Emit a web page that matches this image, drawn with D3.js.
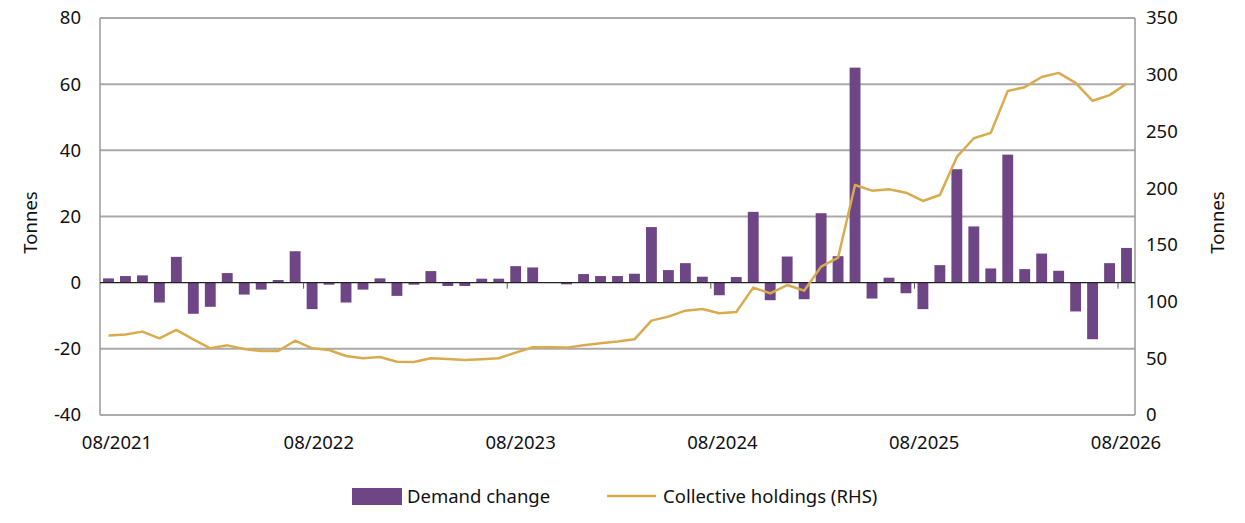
<!DOCTYPE html>
<html>
<head>
<meta charset="utf-8">
<script src="https://cdn.jsdelivr.net/npm/d3@7"></script>
<style>
  body { margin: 0; background: #fff; font-family: "Noto Sans", sans-serif; }
  text { font-family: "Noto Sans", sans-serif; fill: #111; }
</style>
</head>
<body>
<svg id="chart" width="1245" height="523"></svg>
<script>
// monthly demand change (tonnes), 08/2021 .. 08/2026
const demand = [1.3, 2, 2.2, -6, 7.8, -9.4, -7.3, 2.9, -3.6, -2.1, 0.8, 9.5,
  -8, -0.6, -6, -2.1, 1.3, -4, -0.6, 3.5, -1, -1, 1.2, 1.2,
  5, 4.6, 0, -0.5, 2.6, 2, 2, 2.7, 16.8, 3.8, 5.9, 1.8,
  -3.8, 1.7, 21.4, -5.3, 7.9, -5, 21, 8, 65, -4.8, 1.5, -3.2,
  -8, 5.3, 34.3, 17, 4.3, 38.7, 4.1, 8.8, 3.6, -8.7, -17.1, 5.9, 10.5];
// collective holdings (tonnes, RHS)
const holdings = [70, 71, 73.5, 67.6, 75, 66.7, 58.8, 61.4, 58.2, 56.4, 56.4, 65.5,
  58.8, 57.3, 52, 50, 51.1, 47, 46.7, 50, 49.4, 48.5, 49.1, 50,
  55, 59.7, 59.7, 59.4, 61.5, 63.2, 64.7, 66.7, 83.2, 86.7, 92, 93.5,
  89.7, 90.8, 112.3, 107.3, 114.6, 109.6, 130.8, 138.7, 202.8, 197.8, 199, 196,
  188.7, 194, 227.5, 244, 248.7, 285.7, 289, 298, 301.6, 292.8, 277, 282, 292];
const xLabels = ["08/2021", "08/2022", "08/2023", "08/2024", "08/2025", "08/2026"];
const leftTicks = [-40, -20, 0, 20, 40, 60, 80];
const rightTicks = [0, 50, 100, 150, 200, 250, 300, 350];

const M = { left: 100, right: 1135, top: 18, bottom: 415 };
const FS = 18.5;
const svg = d3.select("#chart");

const x = d3.scaleBand().domain(d3.range(demand.length)).range([M.left, M.right]).paddingInner(0.36).paddingOuter(0.18);
const y = d3.scaleLinear().domain([-40, 80]).range([M.bottom, M.top]);
const y2 = d3.scaleLinear().domain([0, 350]).range([M.bottom, M.top]);
const xl = d3.scalePoint().domain(xLabels).range([117, 1126]);

// gridlines
svg.append("g").selectAll("line").data(leftTicks.filter(d => d !== 0)).join("line")
  .attr("x1", M.left).attr("x2", M.right)
  .attr("y1", d => y(d)).attr("y2", d => y(d))
  .attr("stroke", "#aaa").attr("stroke-width", 2);

// frame sides
svg.append("line").attr("x1", M.left).attr("x2", M.left).attr("y1", M.top).attr("y2", M.bottom)
  .attr("stroke", "#999").attr("stroke-width", 1.5);
svg.append("line").attr("x1", M.right).attr("x2", M.right).attr("y1", M.top).attr("y2", M.bottom)
  .attr("stroke", "#999").attr("stroke-width", 1.5);

// bars
svg.append("g").selectAll("rect").data(demand).join("rect")
  .attr("x", (d, i) => x(i))
  .attr("width", x.bandwidth())
  .attr("y", d => y(Math.max(0, d)))
  .attr("height", d => Math.abs(y(d) - y(0)))
  .attr("fill", "#6e4686");

// zero line + ticks
svg.append("line").attr("x1", M.left).attr("x2", M.right).attr("y1", y(0)).attr("y2", y(0))
  .attr("stroke", "#222").attr("stroke-width", 1.2);
svg.append("g").selectAll("line").data([12, 24, 36, 48, 60]).join("line")
  .attr("x1", d => x(d) - x.step() * 0.18).attr("x2", d => x(d) - x.step() * 0.18)
  .attr("y1", y(0)).attr("y2", y(0) + 6)
  .attr("stroke", "#555").attr("stroke-width", 1);

// line
const line = d3.line().x((d, i) => x(i) + x.bandwidth() / 2).y(d => y2(d));
svg.append("path").datum(holdings).attr("d", line)
  .attr("fill", "none").attr("stroke", "#d9ab4f").attr("stroke-width", 2.5)
  .attr("stroke-linejoin", "round");

// axis labels
svg.append("g").selectAll("text").data(leftTicks).join("text")
  .attr("x", 81).attr("y", d => y(d)).attr("dy", "0.35em")
  .attr("text-anchor", "end").attr("font-size", FS).text(d => d);
svg.append("g").selectAll("text").data(rightTicks).join("text")
  .attr("x", 1146).attr("y", d => y2(d)).attr("dy", "0.35em")
  .attr("font-size", FS).text(d => d);
svg.append("g").selectAll("text").data(xLabels).join("text")
  .attr("x", d => xl(d)).attr("y", 449)
  .attr("text-anchor", "middle").attr("font-size", FS).text(d => d);

svg.append("text").attr("transform", `translate(37,${(M.top + M.bottom) / 2 + 6}) rotate(-90)`)
  .attr("text-anchor", "middle").attr("font-size", FS).text("Tonnes");
svg.append("text").attr("transform", `translate(1224,${(M.top + M.bottom) / 2 + 6}) rotate(-90)`)
  .attr("text-anchor", "middle").attr("font-size", FS).text("Tonnes");

// legend
const lg = svg.append("g");
lg.append("rect").attr("x", 352).attr("y", 488).attr("width", 50).attr("height", 17).attr("fill", "#6e4686");
lg.append("text").attr("x", 407).attr("y", 497).attr("dy", "0.35em").attr("font-size", FS).text("Demand change");
lg.append("line").attr("x1", 607).attr("x2", 656).attr("y1", 496).attr("y2", 496)
  .attr("stroke", "#d9ab4f").attr("stroke-width", 2.5);
lg.append("text").attr("x", 663).attr("y", 497).attr("dy", "0.35em").attr("font-size", FS).text("Collective holdings (RHS)");
</script>
</body>
</html>
